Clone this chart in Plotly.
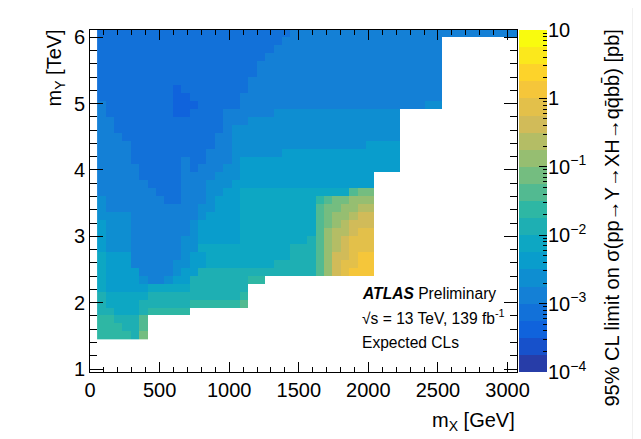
import numpy as np
import plotly.graph_objects as go

# ---------------- data ----------------
# m_X bins [GeV] and m_Y bins [TeV] of the limit map
MX_FIRST_EDGE = 51.0
MX_BIN_WIDTH = 60.3
MX_NBINS = 50
MY_FIRST_EDGE = 1.44
MY_BIN_WIDTH = 0.12
MY_NBINS = 39

# Expected limit band of each cell (20 bands, 4 per decade from 1e-4 pb to 10 pb)
# chars: 0-9, a=10 ... j=19 ; '.' = no mass point.  Rows listed from top (m_Y high) to bottom.
LIMIT_BANDS_TOP_DOWN = [
    "3333333333 3333333333 3334444444 4444444444 4444444444",  # j=38
    "3333333333 3333333333 3344444444 4444444444 4.........",
    "3333333333 3333333333 3444444444 4444444444 4.........",
    "3333333333 3333333333 4444444444 4444444444 4.........",
    "3333333333 3333333334 4444444444 4444444444 4.........",
    "3333333333 3333333334 4444444444 4444444444 4.........",
    "3333333333 3333333344 4444444444 4444444444 4.........",
    "3333333332 3333333344 4444444444 4444444444 4.........",
    "3333333332 2333333444 4444444444 4444444444 4.........",
    "4333333332 2233333444 4444444444 4444444445 5.........",  # j=29
    "4333333332 2333344444 4555555555 555555.... ..........",
    "4433333333 3333344455 5555555555 555555.... ..........",
    "4433333333 3333345555 5555555555 555555.... ..........",
    "4443333333 3333445555 5555555555 555555.... ..........",
    "4444333333 3333445555 5555555555 556666.... ..........",
    "4444333333 3334445555 5566666666 666666.... ..........",
    "4444333333 4334445666 6666666666 666666.... ..........",
    "4444433333 4344455666 6666666666 666666.... ..........",  # j=21
    "4444433333 4444555666 6666666666 666....... ..........",
    "4444443333 4445556666 6666666666 666....... ..........",
    "4444444333 4445566777 7777777777 abb....... ..........",
    "5444444433 4445666777 7777779abb ccc....... ..........",
    "5444444444 4455666777 777777abbc cdd....... ..........",
    "5555444444 4456666777 777777abcc dee....... ..........",
    "6555444444 4566666777 777777abcd eee....... ..........",
    "6555444444 4566666777 777777acdd eff....... ..........",
    "6555444444 5566666777 777778acde fff....... ..........",
    "6555444444 5577777777 777888acde fff....... ..........",
    "7666444444 5667777777 777888acee fgg....... ..........",
    "7666444445 5667777777 788888acef fgg....... ..........",
    "7666644445 6688888888 888888acef ggg....... ..........",  # j=8
    "7666654456 6888888899 .......... .......... ..........",
    "7666667777 78888888.. .......... .......... ..........",
    "8777778888 88888889.. .......... .......... ..........",
    "8777788888 8999999a.. .......... .......... ..........",
    "8877789999 9......... .......... .......... ..........",
    "99888a.... .......... .......... .......... ..........",
    "99988a.... .......... .......... .......... ..........",
    "99998b.... .......... .......... .......... ..........",  # j=0
]

LOG_MIN, LOG_MAX, N_BANDS = -4.0, 1.0, 20
CBAR_TICK_TEXT = ["10<sup>\u22124</sup>", "10<sup>\u22123</sup>", "10<sup>\u22122</sup>",
                  "10<sup>\u22121</sup>", "1", "10"]

# ---------------- build arrays ----------------
x_edges = MX_FIRST_EDGE + MX_BIN_WIDTH * np.arange(MX_NBINS + 1)
y_edges = MY_FIRST_EDGE + MY_BIN_WIDTH * np.arange(MY_NBINS + 1)
band_w = (LOG_MAX - LOG_MIN) / N_BANDS

rows = [r.replace(" ", "") for r in LIMIT_BANDS_TOP_DOWN[::-1]]
z = np.full((MY_NBINS, MX_NBINS), np.nan)
for j, r in enumerate(rows):
    for k, ch in enumerate(r[:MX_NBINS]):
        if ch != ".":
            b = int(ch, 36)
            sigma_pb = 10 ** (LOG_MIN + (b + 0.5) * band_w)
            z[j, k] = np.log10(sigma_pb)

# ROOT kBird palette, quantised into 20 contour colours
stops = [0.0, 0.125, 0.25, 0.375, 0.5, 0.625, 0.75, 0.875, 1.0]
red = [0.2082, 0.0592, 0.0780, 0.0232, 0.1802, 0.5301, 0.8186, 0.9956, 0.9764]
green = [0.1664, 0.3599, 0.5041, 0.6419, 0.7178, 0.7492, 0.7328, 0.7862, 0.9832]
blue = [0.5293, 0.8684, 0.8385, 0.7914, 0.6425, 0.4662, 0.3499, 0.1968, 0.0539]
band_colors = []
for i in range(N_BANDS):
    p = int((i + 0.99) * 255 / N_BANDS) / 254.0
    rgb = [int(round(255 * np.interp(p, stops, c))) for c in (red, green, blue)]
    band_colors.append("rgb(%d,%d,%d)" % tuple(rgb))
cscale = []
for i, c in enumerate(band_colors):
    cscale.append([i / N_BANDS, c])
    cscale.append([(i + 1) / N_BANDS, c])

# ---------------- figure ----------------
FONT = "Liberation Sans, Arial, Helvetica, sans-serif"
OFF = 8                      # page body margin
W, H = 641 - OFF, 439 - OFF
L, T = 90 - OFF, 30 - OFF
B = H - (372 - OFF)
R = W - (547 - OFF)
pw, ph = W - L - R, H - T - B

def px(xp):
    """reference-window x pixel -> paper coordinate"""
    return (xp - OFF - L) / pw

def py(yp):
    """reference-window y pixel -> paper coordinate"""
    return (H - B - (yp - OFF)) / ph

fig = go.Figure()
fig.add_trace(go.Heatmap(
    x=x_edges, y=y_edges, z=z, zmin=LOG_MIN, zmax=LOG_MAX,
    colorscale=cscale, showscale=False, hoverinfo="skip",
    xaxis="x", yaxis="y"))

cb_levels = LOG_MIN + band_w * np.arange(N_BANDS + 1)
cb_z = [[LOG_MIN + (i + 0.5) * band_w] for i in range(N_BANDS)]
fig.add_trace(go.Heatmap(
    x=[0, 1], y=cb_levels, z=cb_z, zmin=LOG_MIN, zmax=LOG_MAX,
    colorscale=cscale, showscale=False, hoverinfo="skip",
    xaxis="x2", yaxis="y2"))

minor_vals = [np.log10(m * 10.0 ** e) for e in range(-4, 1) for m in range(2, 10)]

axis_font = dict(family=FONT, size=20, color="black")
fig.update_layout(
    width=W, height=H,
    margin=dict(l=L, r=R, t=T, b=B),
    paper_bgcolor="white", plot_bgcolor="white",
    font=dict(family=FONT, color="black"),
    xaxis=dict(domain=[0, px(517)], range=[0, 3068], tickvals=[0, 500, 1000, 1500, 2000, 2500, 3000],
               ticks="inside", ticklen=10, tickwidth=1, tickcolor="black",
               minor=dict(dtick=100, tick0=0, ticks="inside", ticklen=5, tickcolor="black"),
               showline=True, linecolor="black", linewidth=1, mirror="ticks",
               showgrid=False, zeroline=False, tickfont=axis_font, anchor="y"),
    yaxis=dict(domain=[0, 1], range=[0.955, 6.11], tickvals=[1, 2, 3, 4, 5, 6],
               ticks="inside", ticklen=13, tickwidth=1, tickcolor="black",
               minor=dict(dtick=0.2, tick0=0, ticks="inside", ticklen=7, tickcolor="black"),
               showline=True, linecolor="black", linewidth=1, mirror="ticks",
               showgrid=False, zeroline=False, tickfont=axis_font, anchor="x"),
    xaxis2=dict(domain=[px(519), px(547)], range=[0, 1], visible=False, anchor="y2"),
    yaxis2=dict(domain=[0, 1], range=[LOG_MIN, LOG_MAX], anchor="x2", side="right",
                tickvals=list(range(-4, 2)), ticktext=CBAR_TICK_TEXT,
                ticks="inside", ticklen=8, tickwidth=1, tickcolor="black",
                minor=dict(tickvals=minor_vals, ticks="inside", ticklen=4, tickcolor="black"),
                showline=False, showgrid=False, zeroline=False, tickfont=axis_font),
    showlegend=False,
)

ann = []
ann.append(dict(text="m<sub>Y</sub> [TeV]", x=px(55), y=py(28), xref="paper", yref="paper",
                xanchor="center", yanchor="top", textangle=-90, showarrow=False,
                font=dict(family=FONT, size=20)))
ann.append(dict(text="m<sub>X</sub> [GeV]", x=px(517), y=py(421), xref="paper", yref="paper",
                xanchor="right", yanchor="middle", showarrow=False,
                font=dict(family=FONT, size=20)))
ann.append(dict(text="95% CL limit on \u03c3(pp\u2192Y\u2192XH\u2192qq\u0304bb\u0304) [pb]",
                x=px(611), y=py(28), xref="paper", yref="paper",
                xanchor="center", yanchor="top", textangle=-90, showarrow=False,
                font=dict(family=FONT, size=20)))
for txt, yy in [("<b><i>ATLAS</i></b> Preliminary", 293),
                ("\u221as = 13 TeV, 139 fb<sup>-1</sup>", 317),
                ("Expected CLs", 342)]:
    ann.append(dict(text=txt, x=px(360), y=py(yy), xref="paper", yref="paper",
                    xanchor="left", yanchor="middle", showarrow=False,
                    font=dict(family=FONT, size=15.6)))
fig.update_layout(annotations=ann)

fig.add_shape(type="rect", xref="paper", yref="paper", x0=px(632), x1=px(650), y0=py(450), y1=py(0),
              fillcolor="#f0f0f0", line=dict(width=0), layer="below")

fig.write_html("out.html")
